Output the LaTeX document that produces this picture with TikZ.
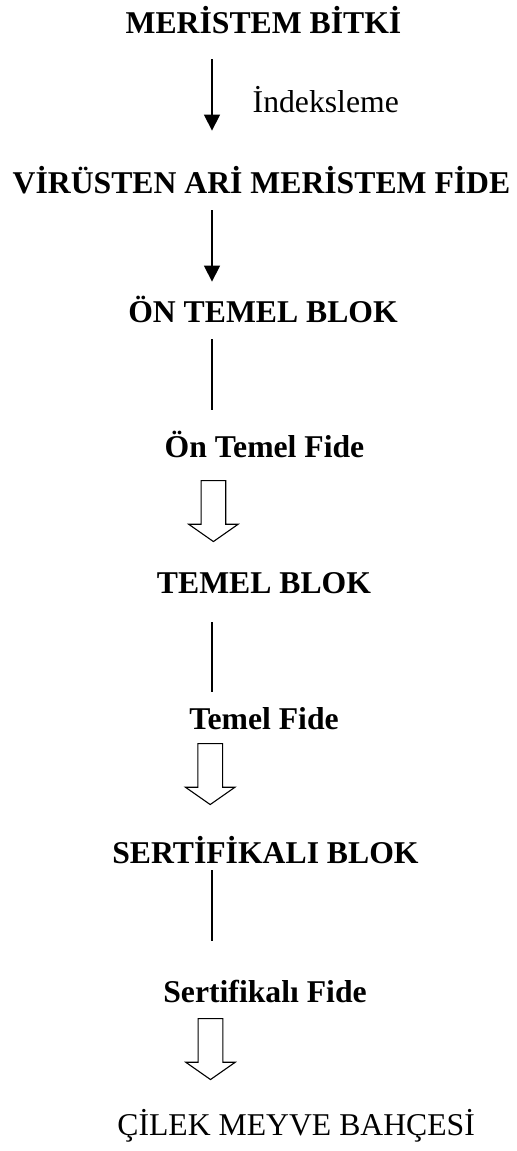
\documentclass[tikz,border=0pt]{standalone}
\usepackage{fontspec}
\setmainfont{Liberation Serif}
\usetikzlibrary{arrows.meta,shapes.arrows}
\tikzset{ttl/.append style={font=\bfseries\fontsize{15.85}{19}\selectfont, inner sep=0pt, text height=10.7pt, text depth=0pt, anchor=base}}
\tikzset{plain/.append style={font=\fontsize{15.85}{19}\selectfont, inner sep=0pt, text height=10.5pt, text depth=0pt, anchor=base west}}
\tikzset{ln/.append style={line width=0.7pt}}
\tikzset{arr/.append style={ln, -{Triangle[width=8pt,length=8pt]}}}
\tikzset{hollow/.append style={single arrow, draw, line width=0.55pt, rotate=-90, anchor=tail, minimum height=30.5pt, inner xsep=0pt, inner ysep=5.9pt, text height=0pt, text depth=0pt, single arrow head extend=6.2pt, single arrow tip angle=110}}

\begin{document}
\begin{tikzpicture}[x=0.5pt,y=-0.5pt]
                \useasboundingbox (0,0) rectangle (516,1151);
                % the column of the connectors
                \coordinate (ax) at (212,0);
                \node[ttl] (n1) at (263.5,33) {MERİSTEM BİTKİ};
                \node[ttl] (n2) at (261.5,193) {VİRÜSTEN ARİ MERİSTEM FİDE};
                \node[ttl] (n3) at (263,322) {ÖN TEMEL BLOK};
                \node[ttl] (n4) at (264.5,457) {Ön Temel Fide};
                \node[ttl] (n5) at (264,593) {TEMEL BLOK};
                \node[ttl] (n6) at (264,729) {Temel Fide};
                \node[ttl] (n7) at (265.5,863) {SERTİFİKALI BLOK};
                \node[ttl] (n8) at (265,1002) {Sertifikalı Fide};
                \node[plain] (n9) at (117,1135) {ÇİLEK MEYVE BAHÇESİ};
                % hollow arrows
                \node[hollow] (h1) at (213.4,480) {};
                \node[hollow] (h2) at (210.2,743) {};
                \node[hollow] (h3) at (210.5,1018) {};
                \draw[arr, shorten <=13pt, shorten >=20.3pt] (n1.south -| ax) -- node[plain, xshift=20pt, yshift=-5pt] (lbl) {İndeksleme} (n2.north -| ax);
                \draw[arr, shorten <=8.5pt, shorten >=9.3pt] (n2.south -| ax) -- (n3.north -| ax);
                \draw[ln, shorten <=8.5pt, shorten >=12.8pt] (n3.south -| ax) -- (n4.north -| ax);
                \draw[ln, shorten <=14.5pt, shorten >=7.8pt] (n5.south -| ax) -- (n6.north -| ax);
                \draw[ln, shorten <=3.5pt, shorten >=19.8pt] (n7.south -| ax) -- (n8.north -| ax);
            \end{tikzpicture}
\end{document}
